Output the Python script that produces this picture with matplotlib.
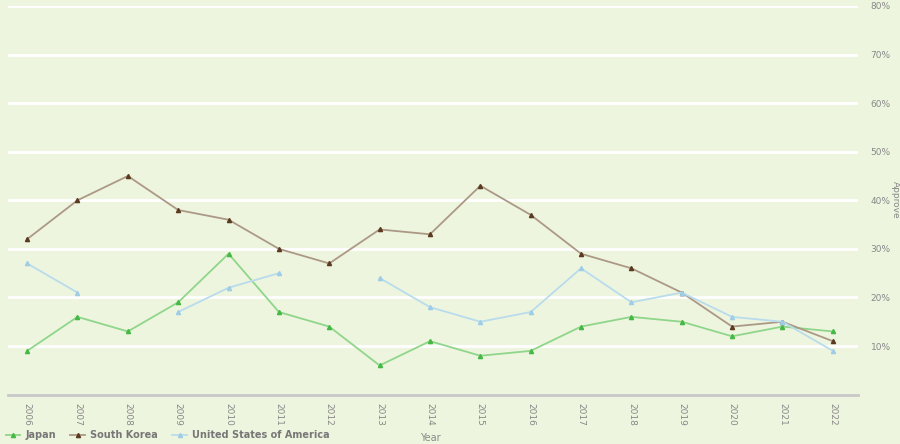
import numpy as np
import matplotlib
matplotlib.use("Agg")
import matplotlib.pyplot as plt

years = [str(y) for y in range(2006, 2023)]
japan = [9, 16, 13, 19, 29, 17, 14, 6, 11, 8, 9, 14, 16, 15, 12, 14, 13]
south_korea = [32, 40, 45, 38, 36, 30, 27, 34, 33, 43, 37, 29, 26, 21, 14, 15, 11]
usa = [27, 21, np.nan, 17, 22, 25, np.nan, 24, 18, 15, 17, 26, 19, 21, 16, 15, 9]
yticks = [10, 20, 30, 40, 50, 60, 70, 80]

bg = "#eef5df"
txt = "#888888"

fig = plt.figure(figsize=(9, 4.44), dpi=100, facecolor=bg)
ax = fig.add_axes([8 / 900, 1 - 394.6 / 444, 850 / 900, 388.6 / 444])
ax.set_facecolor(bg)

x = np.arange(len(years))
series = [
    ("Japan", japan, "#8fd68a", "#45b845"),
    ("South Korea", south_korea, "#ab9985", "#5b3b20"),
    ("United States of America", usa, "#b8dcec", "#9fcde6"),
]
for name, vals, lc, mc in series:
    ax.plot(x, vals, color=lc, lw=1.3, marker="^", ms=3,
            markerfacecolor=mc, markeredgecolor=mc, label=name)

ax.set_xlim(-0.38, 16.5)
ax.set_ylim(0, 80)
ax.set_yticks(yticks)
ax.set_yticklabels([f"{v}%" for v in yticks])
ax.yaxis.tick_right()
ax.grid(axis="y", color="white", lw=2)
ax.set_axisbelow(True)
ax.set_xticks(x)
ax.set_xticklabels(years, rotation=-90)
ax.tick_params(axis="both", length=0, colors=txt, labelsize=6.5)
ax.tick_params(axis="y", pad=9)
ax.tick_params(axis="x", pad=6)
for s in ["top", "left", "right"]:
    ax.spines[s].set_visible(False)
ax.spines["bottom"].set_color("#c8c8c8")
ax.spines["bottom"].set_linewidth(2)

fig.text(895 / 900, 1 - 200 / 444, "Approve", rotation=-90, color=txt, fontsize=6.5,
         ha="center", va="center")
fig.text(430 / 900, 1 - 438 / 444, "Year", color=txt, fontsize=7, ha="center", va="center")

leg = fig.legend(loc="lower left", bbox_to_anchor=(0.0, -0.005), ncol=3, frameon=False,
                 fontsize=7, handlelength=1.5, columnspacing=1.5, handletextpad=0.5,
                 borderaxespad=0.2)
for t in leg.get_texts():
    t.set_color("#777777")
    t.set_fontweight("bold")

fig.savefig("out.png", dpi=100, facecolor=bg)
